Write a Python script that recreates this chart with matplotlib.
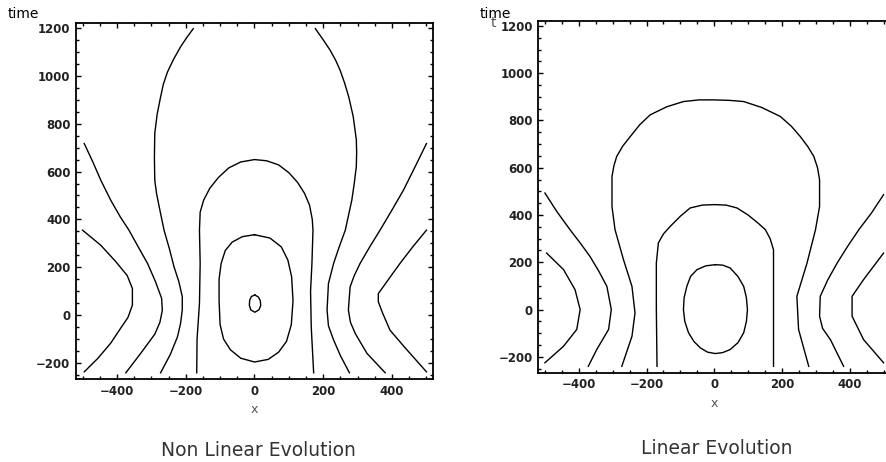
import matplotlib
matplotlib.use("Agg")
import matplotlib.pyplot as plt
from matplotlib.ticker import MultipleLocator

# ---------------- data: contour lines ----------------
# Non linear evolution (left panel)
nl_a_left_x = [-500, -447, -403, -370, -355, -355, -368, -393, -418, -455, -495]
nl_a_left_t = [355, 292, 223, 165, 111, 42, -10, -63, -117, -180, -237]
nl_b_left_x = [-495, -470, -447, -418, -390, -365, -338, -311, -288, -270, -268, -275, -290, -331, -374]
nl_b_left_t = [717, 640, 564, 480, 410, 355, 285, 216, 140, 70, 20, -30, -80, -160, -241]
nl_c_left_x = [-178, -197, -215, -235, -253, -265, -273, -283, -290, -291, -290, -285, -277, -263,
               -248, -234, -220, -210, -210, -215, -224, -245, -273]
nl_c_left_t = [1197, 1160, 1121, 1070, 1016, 965, 912, 840, 759, 660, 564, 510, 452, 355,
               280, 202, 140, 77, 22, -35, -91, -165, -241]
nl_d_x = [-168, -167, -160, -158, -160, -158, -148, -130, -105, -75, -40, 0, 35, 70, 100, 125,
          145, 160, 168, 170, 167, 163, 165, 172]
nl_d_t = [-241, -100, 50, 216, 355, 430, 480, 530, 575, 615, 640, 650, 645, 628, 595, 555,
          510, 460, 400, 355, 216, 100, -50, -241]
nl_e_x = [0, -35, -65, -85, -97, -103, -103, -100, -90, -70, -40, 0, 40, 70, 93, 107, 112, 108,
          97, 78, 45, 0]
nl_e_t = [336, 328, 305, 270, 216, 150, 60, -40, -100, -145, -180, -196, -185, -155, -110, -40,
          60, 160, 230, 285, 322, 336]
nl_f_x = [1, -9, -14, -15, -11, 1, 13, 18, 17, 11, 1]
nl_f_t = [84, 78, 62, 42, 22, 12, 22, 40, 60, 76, 84]
nl_c_right_x = [177, 200, 220, 236, 249, 262, 274, 287, 296, 297, 296, 290, 283, 264, 245, 230,
                215, 211, 215, 230, 250, 276]
nl_c_right_t = [1197, 1150, 1107, 1065, 1023, 970, 912, 830, 734, 680, 620, 550, 481, 355, 280,
                216, 132, 21, -45, -104, -170, -241]
nl_b_right_x = [500, 467, 433, 398, 365, 335, 307, 290, 278, 273, 279, 293, 327, 380]
nl_b_right_t = [717, 620, 522, 435, 355, 285, 216, 165, 118, 21, -30, -77, -160, -241]
nl_a_right_x = [500, 460, 423, 390, 360, 360, 372, 394, 440, 500]
nl_a_right_t = [355, 285, 216, 150, 90, 56, 10, -63, -140, -237]

# Linear evolution (right panel)
li_j_left_x = [-495, -445, -411, -396, -406, -445, -500]
li_j_left_t = [239, 169, 84, 0, -84, -155, -225]
li_k_left_x = [-500, -465, -426, -395, -367, -340, -317, -304, -312, -347, -372]
li_k_left_t = [493, 415, 338, 280, 225, 160, 98, 0, -84, -169, -240]
li_g_x = [-273, -243, -234, -243, -268, -293, -302, -302, -296, -288, -270, -248, -220, -189,
          -140, -91, -45, -2, 45, 87, 140, 195, 228, 254, 276, 294, 305, 311, 311, 299, 274,
          244, 249, 279]
li_g_t = [-240, -113, -14, 98, 211, 338, 436, 563, 610, 648, 692, 732, 782, 824,
          858, 880, 887, 887, 885, 880, 855, 817, 775, 732, 690, 648, 600, 549, 436, 338, 197,
          56, -84, -240]
li_h_x = [-169, -171, -171, -165, -150, -130, -100, -71, -35, 0, 35, 67, 100, 130, 151, 165,
          175, 175, 175]
li_h_t = [-240, 0, 197, 282, 320, 352, 395, 430, 442, 444, 442, 430, 400, 365, 338, 300,
          253, 197, -240]
li_i_x = [3, -25, -51, -70, -81, -89, -91, -87, -76, -60, -41, -20, 3, 25, 47, 70, 87, 95, 98,
          95, 87, 70, 47, 25, 3]
li_i_t = [190, 185, 169, 140, 98, 50, 0, -50, -98, -135, -162, -180, -186, -182, -169, -140,
          -98, -50, 0, 50, 98, 140, 176, 188, 190]
li_k_right_x = [500, 465, 427, 395, 363, 335, 313, 311, 320, 343, 382]
li_k_right_t = [486, 410, 338, 270, 197, 125, 56, -28, -80, -127, -240]
li_j_right_x = [500, 441, 407, 407, 441, 500]
li_j_right_t = [239, 127, 56, -28, -127, -225]

x_ticks = [-400, -200, 0, 200, 400]
t_ticks = [-200, 0, 200, 400, 600, 800, 1000, 1200]
panel_titles = ["Non Linear Evolution", "Linear Evolution"]

nl_lines = [(nl_a_left_x, nl_a_left_t), (nl_b_left_x, nl_b_left_t), (nl_c_left_x, nl_c_left_t),
            (nl_d_x, nl_d_t), (nl_e_x, nl_e_t), (nl_f_x, nl_f_t),
            (nl_c_right_x, nl_c_right_t), (nl_b_right_x, nl_b_right_t), (nl_a_right_x, nl_a_right_t)]
li_lines = [(li_j_left_x, li_j_left_t), (li_k_left_x, li_k_left_t), (li_g_x, li_g_t),
            (li_h_x, li_h_t), (li_i_x, li_i_t), (li_k_right_x, li_k_right_t),
            (li_j_right_x, li_j_right_t)]

W, H = 887, 462
fig = plt.figure(figsize=(W / 100, H / 100), dpi=100)


def make_axes(l, r, top, bottom):
    return fig.add_axes([l / W, 1 - bottom / H, (r - l) / W, (bottom - top) / H])


ax1 = make_axes(76, 433, 22.7, 379)
ax2 = make_axes(538.5, 890, 20.7, 372.7)

for ax, lines in ((ax1, nl_lines), (ax2, li_lines)):
    for xs, ts in lines:
        ax.plot(xs, ts, color="black", lw=1.0)
    ax.set_xlim(-519, 519)
    ax.set_ylim(-267, 1222)
    ax.set_xticks(x_ticks)
    ax.set_yticks(t_ticks)
    ax.xaxis.set_minor_locator(MultipleLocator(50))
    ax.yaxis.set_minor_locator(MultipleLocator(50))
    ax.tick_params(which="both", direction="in", top=True, right=(ax is ax1),
                   color="black", width=1.0)
    ax.tick_params(which="major", length=3.5, pad=4, labelsize=8.5,
                   labelcolor="#222222")
    ax.tick_params(which="minor", length=2)
    for lab in ax.get_xticklabels() + ax.get_yticklabels():
        lab.set_fontweight("bold")
    for sp in ax.spines.values():
        sp.set_linewidth(1.3)
    ax.set_xlabel("x", fontsize=9, color="#555555", labelpad=4)

# axis "time" labels
fig.text(8 / W, 1 - 18 / H, "time", fontsize=10, color="black", ha="left", va="baseline")
fig.text(480 / W, 1 - 18 / H, "time", fontsize=10, color="black", ha="left", va="baseline")
fig.text(491 / W, 1 - 27 / H, "t", fontsize=10, color="#555555", ha="left", va="baseline")

# panel titles
fig.text(258 / W, 1 - 451 / H, panel_titles[0], fontsize=13.5, color="#333333",
         ha="center", va="center")
fig.text(717 / W, 1 - 448 / H, panel_titles[1], fontsize=13.5, color="#333333",
         ha="center", va="center")

fig.savefig("out.png", dpi=100)
